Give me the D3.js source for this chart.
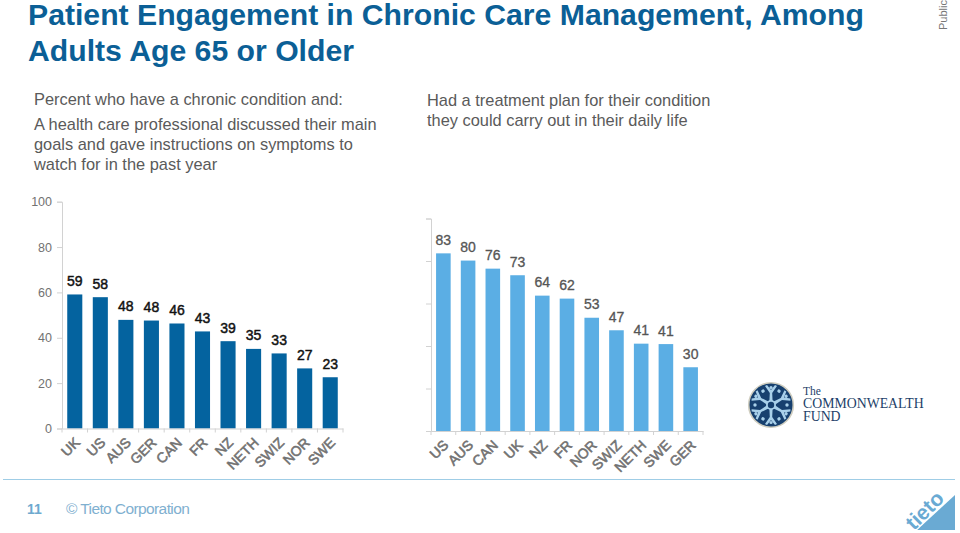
<!DOCTYPE html>
<html><head><meta charset="utf-8">
<script src="https://cdn.jsdelivr.net/npm/d3@7/dist/d3.min.js"></script>
<style>
html,body{margin:0;padding:0;background:#fff}
svg{display:block}
text{font-family:"Liberation Sans",Arial,sans-serif}
</style></head><body>
<svg id="c" width="960" height="533"></svg>
<script>
const leftCategories=["UK","US","AUS","GER","CAN","FR","NZ","NETH","SWIZ","NOR","SWE"];
const leftValues=[59.1,57.9,47.9,47.6,46.3,42.8,38.5,35.1,33.1,26.5,22.6];
const leftLabels=[59,58,48,48,46,43,39,35,33,27,23];
const rightCategories=["US","AUS","CAN","UK","NZ","FR","NOR","SWIZ","NETH","SWE","GER"];
const rightValues=[83.6,80.2,76.4,73.3,63.7,62.3,53.3,47.4,41.1,40.9,30];
const rightLabels=[83,80,76,73,64,62,53,47,41,41,30];
const yTicks=[0,20,40,60,80,100];
const titleLines=["Patient Engagement in Chronic Care Management, Among","Adults Age 65 or Older"];
const leftText=["Percent who have a chronic condition and:","A health care professional discussed their main","goals and gave instructions on symptoms to","watch for in the past year"];
const rightText=["Had a treatment plan for their condition","they could carry out in their daily life"];

const svg=d3.select("#c");
const grey="#727272", axisC="#d2d2d2";

svg.selectAll(".t").data(titleLines).join("text").attr("x",28).attr("y",(d,i)=>[25,61][i])
  .attr("font-size",30.2).attr("font-weight","bold").attr("fill","#0b5f96").text(d=>d);
svg.append("text").attr("transform","translate(947,30) rotate(-90)").attr("font-size",11).attr("fill","#777").text("Public");

svg.selectAll(".l").data(leftText).join("text").attr("x",34).attr("y",(d,i)=>[105,130,150,170][i])
  .attr("font-size",16.4).attr("fill","#5a5a5a").text(d=>d);
svg.selectAll(".r").data(rightText).join("text").attr("x",427).attr("y",(d,i)=>[106,126][i])
  .attr("font-size",16.4).attr("fill","#5a5a5a").text(d=>d);

function chart(o){
  const x=d3.scaleBand().domain(o.cats).range([o.x0,o.x1]).paddingInner(0.41).paddingOuter(0.205);
  const y=d3.scaleLinear().domain([0,100]).range([o.y0,o.y1]);
  const g=svg.append("g");
  const ax=g.append("g").attr("transform",`translate(${o.x0},0)`)
    .call(d3.axisLeft(y).tickValues(yTicks).tickSize(5).tickFormat(o.showY?d3.format("d"):""));
  ax.selectAll("path,line").attr("stroke",axisC);
  ax.selectAll("text").attr("font-size",12.5).attr("fill",grey).attr("font-family","Liberation Sans").attr("x",-10);
  g.selectAll("rect").data(o.vals).join("rect")
    .attr("x",(d,i)=>x(o.cats[i])).attr("width",x.bandwidth())
    .attr("y",d=>y(d)).attr("height",d=>y(0)-y(d)).attr("fill",o.color);
  const bx=g.append("g").attr("transform",`translate(0,${o.y0})`)
    .call(d3.axisBottom(x).tickSize(0).tickFormat(""));
  bx.select("path").attr("stroke",axisC);
  bx.selectAll(".tick").remove();
  g.selectAll(".tk").data(d3.range(o.cats.length+1)).join("line")
    .attr("x1",d=>o.x0+d*(o.x1-o.x0)/o.cats.length).attr("x2",d=>o.x0+d*(o.x1-o.x0)/o.cats.length)
    .attr("y1",o.y0).attr("y2",o.y0+4).attr("stroke",axisC);
  g.selectAll(".v").data(o.labels).join("text").attr("text-anchor","middle")
    .attr("x",(d,i)=>x(o.cats[i])+x.bandwidth()/2).attr("y",(d,i)=>y(o.vals[i])-8.5)
    .attr("font-size",14).attr("fill",o.labelColor).attr("stroke",o.labelColor).attr("stroke-width",o.labelStroke).text(d=>d);
  g.selectAll(".c").data(o.cats).join("text").attr("text-anchor","end")
    .attr("transform",d=>`translate(${x(d)+x.bandwidth()/2+6},${o.y0+15}) rotate(-45)`)
    .attr("font-size",14).attr("fill",grey).attr("stroke",grey).attr("stroke-width",0.55).text(d=>d);
}
chart({cats:leftCategories,vals:leftValues,labels:leftLabels,x0:62,x1:343,y0:428.5,y1:201.7,color:"#04639f",showY:true,labelColor:"#111",labelStroke:0.45});
chart({cats:rightCategories,vals:rightValues,labels:rightLabels,x0:431,x1:703,y0:431,y1:218.5,color:"#5baee4",showY:false,labelColor:"#555",labelStroke:0.3});

// Commonwealth Fund logo
const logo=svg.append("g").attr("transform","translate(771,405)");
logo.append("circle").attr("r",22.3).attr("fill","#17406f").attr("stroke","#cfcdbf").attr("stroke-width",1.6);
d3.range(6).forEach(i=>{
  const s=logo.append("g").attr("transform",`rotate(${i*60})`);
  s.append("path").attr("d","M-1.6,-4L1.6,-4L1.2,-12L6,-19L4,-20L0,-15L-4,-20L-6,-19L-1.2,-12Z").attr("fill","#a9d0ea");
  s.append("circle").attr("cy",-17.5).attr("r",1.6).attr("fill","#a9d0ea");
  s.append("g").attr("transform","rotate(30)").append("circle").attr("cy",-16).attr("r",1.7).attr("fill","#a9d0ea");
});
logo.append("circle").attr("r",5).attr("fill","#a9d0ea");
logo.append("circle").attr("r",3.2).attr("fill","#17406f");
const lt=[["The",803,395,11.5],["COMMONWEALTH",803,408,13.8],["FUND",803,421,13.8]];
svg.selectAll(".lg").data(lt).join("text").attr("x",d=>d[1]).attr("y",d=>d[2]).attr("font-size",d=>d[3])
  .attr("fill","#1d3f69").style("font-family","Liberation Serif").text(d=>d[0]);

// footer
svg.append("line").attr("x1",3).attr("x2",955).attr("y1",479.5).attr("y2",479.5).attr("stroke","#9fcde6").attr("stroke-width",1.2);
svg.append("text").attr("x",27).attr("y",514).attr("font-size",14).attr("font-weight","bold").attr("fill","#6ea9cf").text("11");
svg.append("text").attr("x",66).attr("y",514).attr("font-size",15.5).attr("letter-spacing",-0.6).attr("fill","#7fb0d0").text("© Tieto Corporation");
svg.append("path").attr("d","M955,495L955,530L917,530Z").attr("fill","#6aaad3");
svg.append("text").attr("transform","translate(914,531) rotate(-45)").attr("font-size",21).attr("font-weight","bold").attr("fill","#6aaad3").attr("stroke","#fff").attr("stroke-width",2).attr("paint-order","stroke").text("tieto");
</script>
</body></html>
